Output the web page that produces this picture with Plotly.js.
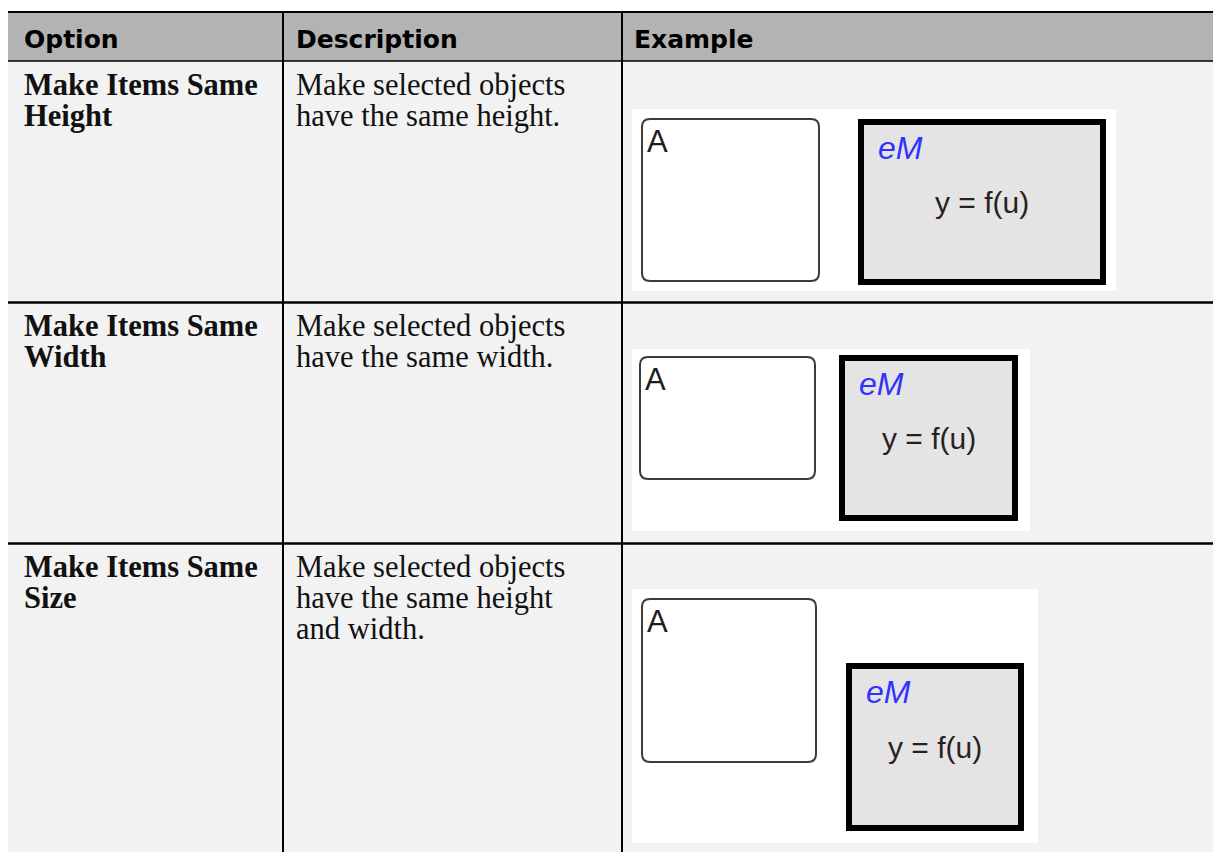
<!DOCTYPE html>
<html>
<head>
<meta charset="utf-8">
<script src="https://cdn.plot.ly/plotly-3.0.1.min.js"></script>
<style>
html,body{margin:0;padding:0;background:#ffffff;}
#chart{width:1213px;height:852px;}
</style>
</head>
<body>
<div id="chart"></div>
<script>
// ---------------- data (text content) ----------------
const headers = ['Option', 'Description', 'Example'];
const options = ['Make Items Same\nHeight', 'Make Items Same\nWidth', 'Make Items Same\nSize'];
const descriptions = [
  'Make selected objects\nhave the same height.',
  'Make selected objects\nhave the same width.',
  'Make selected objects\nhave the same height\nand width.'
];
const stateLabels = ['A', 'A', 'A'];
const blockLabels = ['eM', 'eM', 'eM'];
const blockBodies = ['y = f(u)', 'y = f(u)', 'y = f(u)'];

// ---------------- layout geometry ----------------
const W = 1213, H = 852;
const colEdges = [8, 283, 622, 1213];
const rowEdges = [12, 61, 302.5, 543.5, 852];
const headerPadX = [16, 13, 12];
const bodyPadX = [16, 13];
const lineStep = 31;
const firstBaseline = 34;   // from row top
const headerBaseline = 48;

// example illustration geometry, relative to the Example cell's top-left corner
const exampleGeom = [
  {panel: [10, 48, 494, 230],     state: [20, 58, 197, 220],     block: [236, 58, 484, 224]},
  {panel: [10, 46.5, 408, 228.5], state: [18, 54.5, 193, 176.5], block: [217, 52.5, 396, 218.5]},
  {panel: [10, 45.5, 416, 299.5], state: [20, 55.5, 194, 218.5], block: [224, 119.5, 402, 287.5]}
];

// ---------------- styles ----------------
const headerFont = {family: 'DejaVu Sans', size: 25, color: '#000000', weight: 700};
const optionFont = {family: 'Liberation Serif', size: 30.5, color: '#111111', weight: 700};
const descFont = {family: 'Liberation Serif', size: 30.5, color: '#111111'};
const stateFont = {family: 'Liberation Sans', size: 31, color: '#1e1e1e'};
const blockLabelFont = {family: 'Liberation Sans', size: 32, color: '#3232ff', style: 'italic'};
const blockBodyFont = {family: 'Liberation Sans', size: 30, color: '#2a1f1f'};

const shapes = [];
const annotations = [];

function rect(x0, y0, x1, y1, fill, lineColor, lineWidth) {
  shapes.push({type: 'rect', xref: 'x', yref: 'y', x0: x0, y0: y0, x1: x1, y1: y1,
    fillcolor: fill, line: {color: lineColor || 'rgba(0,0,0,0)', width: lineWidth || 0}, layer: 'above'});
}
function line(x0, y0, x1, y1, color, width) {
  shapes.push({type: 'line', xref: 'x', yref: 'y', x0: x0, y0: y0, x1: x1, y1: y1,
    line: {color: color, width: width}, layer: 'above'});
}
function roundRect(x0, y0, x1, y1, r, color, width, fill) {
  const p = 'M' + (x0 + r) + ',' + y0 + ' L' + (x1 - r) + ',' + y0 +
    ' Q' + x1 + ',' + y0 + ' ' + x1 + ',' + (y0 + r) +
    ' L' + x1 + ',' + (y1 - r) +
    ' Q' + x1 + ',' + y1 + ' ' + (x1 - r) + ',' + y1 +
    ' L' + (x0 + r) + ',' + y1 +
    ' Q' + x0 + ',' + y1 + ' ' + x0 + ',' + (y1 - r) +
    ' L' + x0 + ',' + (y0 + r) +
    ' Q' + x0 + ',' + y0 + ' ' + (x0 + r) + ',' + y0 + ' Z';
  shapes.push({type: 'path', xref: 'x', yref: 'y', path: p, fillcolor: fill,
    line: {color: color, width: width}, layer: 'above'});
}
// place text by its baseline
function text(str, x, baseline, font, xanchor) {
  const k = 0.34;
  annotations.push({text: str, x: x, y: baseline - k * font.size, xref: 'x', yref: 'y',
    xanchor: xanchor || 'left', yanchor: 'middle', showarrow: false,
    borderpad: 0, borderwidth: 0, font: font});
}

// ---- table background ----
rect(colEdges[0], rowEdges[0], colEdges[3], rowEdges[1], '#b3b3b3');
rect(colEdges[0], rowEdges[1], colEdges[3], rowEdges[4], '#f2f2f2');

// ---- header text ----
headers.forEach(function (h, i) {
  text(h, colEdges[i] + headerPadX[i], headerBaseline, headerFont);
});

// ---- body rows ----
options.forEach(function (opt, r) {
  const top = rowEdges[r + 1];
  opt.split('\n').forEach(function (ln, j) {
    text(ln, colEdges[0] + bodyPadX[0], top + firstBaseline + j * lineStep, optionFont);
  });
  descriptions[r].split('\n').forEach(function (ln, j) {
    text(ln, colEdges[1] + bodyPadX[1], top + firstBaseline + j * lineStep, descFont);
  });

  // example illustration
  const g = exampleGeom[r];
  const ox = colEdges[2], oy = top;
  rect(ox + g.panel[0], oy + g.panel[1], ox + g.panel[2], oy + g.panel[3], '#ffffff');
  roundRect(ox + g.state[0], oy + g.state[1], ox + g.state[2], oy + g.state[3], 8, '#3c3c3c', 2, '#ffffff');
  rect(ox + g.block[0] + 3, oy + g.block[1] + 3, ox + g.block[2] - 3, oy + g.block[3] - 3, '#e4e4e4', '#000000', 6);
  text(stateLabels[r], ox + g.state[0] + 5, oy + g.state[1] + 33, stateFont);
  text(blockLabels[r], ox + g.block[0] + 20, oy + g.block[1] + 40, blockLabelFont);
  text(blockBodies[r], ox + (g.block[0] + g.block[2]) / 2, oy + (g.block[1] + g.block[3]) / 2 + 10.5, blockBodyFont, 'center');
});

// ---- grid lines ----
line(colEdges[0], rowEdges[0], colEdges[3], rowEdges[0], '#000000', 2);
line(colEdges[0], rowEdges[1], colEdges[3], rowEdges[1], '#000000', 1.3);
line(colEdges[0], rowEdges[2], colEdges[3], rowEdges[2], '#000000', 2.5);
line(colEdges[0], rowEdges[3], colEdges[3], rowEdges[3], '#000000', 2.5);
line(colEdges[1], rowEdges[0], colEdges[1], rowEdges[4], '#000000', 2);
line(colEdges[2], rowEdges[0], colEdges[2], rowEdges[4], '#000000', 2);

const layout = {
  width: W, height: H,
  margin: {l: 0, r: 0, t: 0, b: 0, pad: 0},
  paper_bgcolor: '#ffffff', plot_bgcolor: '#ffffff',
  xaxis: {range: [0, W], visible: false, fixedrange: true},
  yaxis: {range: [H, 0], visible: false, fixedrange: true},
  showlegend: false,
  shapes: shapes,
  annotations: annotations
};

Plotly.newPlot('chart', [{type: 'scatter', x: [], y: [], mode: 'markers', hoverinfo: 'skip'}], layout,
  {staticPlot: true, displayModeBar: false});
</script>
</body>
</html>
